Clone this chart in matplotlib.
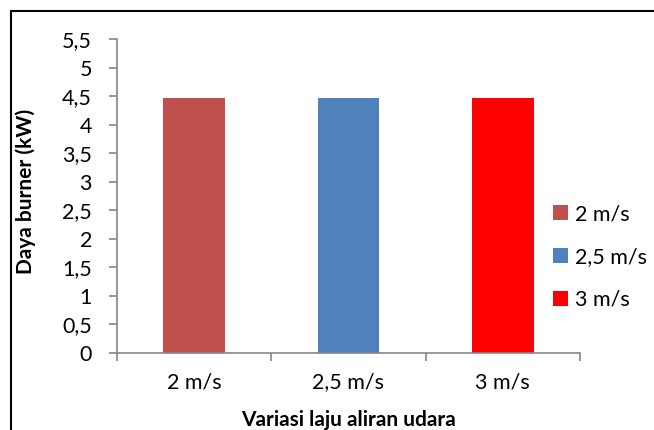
import matplotlib
matplotlib.use('Agg')
import matplotlib.pyplot as plt
from matplotlib.patches import Rectangle, Patch

plt.rcParams['font.family'] = ['Lato', 'DejaVu Sans']

categories = ['2 m/s', '2,5 m/s', '3 m/s']
power_kw = [4.47, 4.47, 4.47]
bar_colors = ['#C0504D', '#4F81BD', '#FF0000']
yticks = [0, 0.5, 1, 1.5, 2, 2.5, 3, 3.5, 4, 4.5, 5, 5.5]
ytick_labels = ['0', '0,5', '1', '1,5', '2', '2,5', '3', '3,5', '4', '4,5', '5', '5,5']

W, H = 654, 430
fig = plt.figure(figsize=(W / 100, H / 100), dpi=100)
ax = fig.add_axes([117 / W, 1 - 353 / H, (580 - 117) / W, (353 - 39) / H])

x = list(range(len(categories)))
ax.bar(x, power_kw, width=0.4, color=bar_colors)

ax.set_xlim(-0.5, 2.5)
ax.set_ylim(0, 5.5)

ax.set_yticks(yticks)
ax.set_yticklabels(ytick_labels)
ax.set_xticks(x)
ax.set_xticklabels(categories)
ax.set_xticks([-0.5, 0.5, 1.5, 2.5], minor=True)

gray = '#868686'
for s in ['top', 'right']:
    ax.spines[s].set_visible(False)
for s in ['left', 'bottom']:
    ax.spines[s].set_color(gray)
    ax.spines[s].set_linewidth(1.2)

ax.tick_params(axis='y', length=6, width=1.2, color=gray, pad=12, labelsize=15.5)
ax.tick_params(axis='x', which='major', length=0, pad=14, labelsize=15.5)
ax.tick_params(axis='x', which='minor', length=6, width=1.2, color=gray)

ax.set_ylabel('Daya burner (kW)', fontsize=15, fontweight='bold')
ax.yaxis.set_label_coords((36 - 117) / (580 - 117), 0.515)
ax.set_xlabel('Variasi laju aliran udara', fontsize=15, fontweight='bold')
ax.xaxis.set_label_coords(0.5, (353 - 410) / (353 - 39))

handles = [Patch(facecolor=c, edgecolor='none') for c in bar_colors]
fig.legend(handles, categories, loc='center left',
           bbox_to_anchor=(553 / W, 1 - 257 / H), frameon=False,
           borderpad=0, borderaxespad=0,
           fontsize=15.5, handlelength=0.7, handleheight=0.7,
           handletextpad=0.3, labelspacing=1.05)

# outer frame (chart area border, cut off at right and bottom)
fig.patches.append(Rectangle((11 / W, -0.1), 1.0, 1 - 11 / H + 0.1,
                             transform=fig.transFigure, fill=False,
                             edgecolor='black', linewidth=1.5))

fig.savefig('out.png', dpi=100)
